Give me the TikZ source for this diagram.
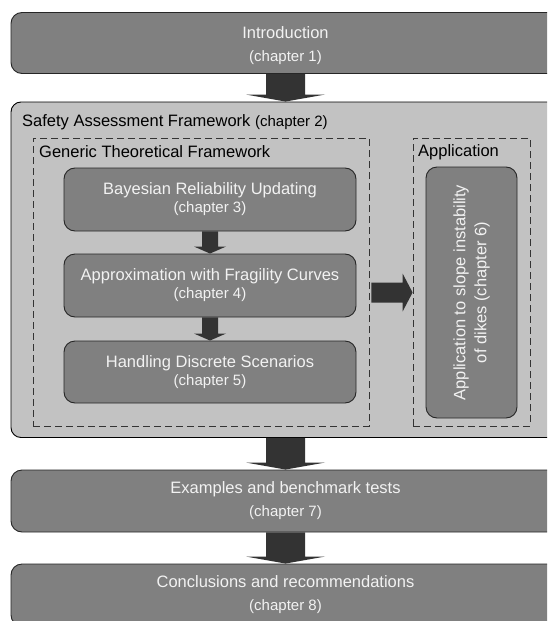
\documentclass[tikz,border=0pt]{standalone}
\usepackage{fontspec}
\setmainfont{Liberation Sans}
\usepackage{xcolor}
\usetikzlibrary{calc}

\definecolor{boxgray}{HTML}{808080}
\definecolor{framegray}{HTML}{C2C2C2}
\definecolor{arrowgray}{HTML}{333333}
\definecolor{textwhite}{HTML}{F2F2F2}

\newcommand{\chapnote}[1]{{\fontsize{15}{18}\selectfont(chapter #1)}}
\newcommand{\blockdown}[5]{%
	\fill [arrowgray] ($(#1)+(-#3,0)$) -- ($(#2)+(-#3,#5)$) -- ($(#2)+(-#4,#5)$) -- (#2)
		-- ($(#2)+(#4,#5)$) -- ($(#2)+(#3,#5)$) -- ($(#1)+(#3,0)$) -- cycle;}
\newcommand{\blockright}[5]{%
	\fill [arrowgray] ($(#1)+(0,#3)$) -- ($(#2)+(-#5,#3)$) -- ($(#2)+(-#5,#4)$) -- (#2)
		-- ($(#2)+(-#5,-#4)$) -- ($(#2)+(-#5,-#3)$) -- ($(#1)+(0,-#3)$) -- cycle;}

\tikzset{
	chapterbox/.style = {draw = black!85, line width = 0.9pt, fill = boxgray, rounded corners = 11pt,
		text = textwhite, align = center, inner sep = 0pt,
		font = \fontsize{16.5}{18}\selectfont},
	groupbox/.style = {draw = black, line width = 0.9pt, fill = framegray, rounded corners = 10pt, inner sep = 0pt},
	dashedbox/.style = {draw = black!80, line width = 0.8pt, dash pattern = on 7pt off 4pt, inner sep = 0pt},
	boxtitle/.style = {anchor = west, inner sep = 0pt, text = black, font = \fontsize{16.5}{18}\selectfont},
}

\begin{document}
\begin{tikzpicture}[x = 1pt, y = 1pt]
					\def\W{547};
					\def\H{621};
					\useasboundingbox (0,0) rectangle (\W,-\H);
					\clip (0,0) rectangle (\W,-\H);

					% outer chapters
					\begin{scope}
						\node [chapterbox, minimum width = 549pt, minimum height = 61pt] (intro) at (285.5,-43)
							{\rule{0pt}{18pt}Introduction\\[5pt]\chapnote{1}};
						\node [groupbox, minimum width = 549pt, minimum height = 335.5pt] (safety) at (285.5,-269.75) {};
						\node [boxtitle] (safetytitle) at (22,-122)
							{Safety Assessment Framework \chapnote{2}};
						\node [chapterbox, minimum width = 549pt, minimum height = 62pt] (examples) at (285.5,-501)
							{Examples and benchmark tests\\[5pt]\chapnote{7}};
						\node [chapterbox, minimum width = 549pt, minimum height = 62pt] (concl) at (285.5,-595)
							{Conclusions and recommendations\\[5pt]\chapnote{8}};
					\end{scope}

					% frameworks
					\begin{scope}
						\node [dashedbox, minimum width = 336pt, minimum height = 288pt] (generic) at (201,-282) {};
						\node [boxtitle] (generictitle) at (39,-152) {Generic Theoretical Framework};
						\node [dashedbox, minimum width = 117pt, minimum height = 288pt] (app) at (471.5,-282) {};
						\node [boxtitle] (apptitle) at (418,-152) {Application};
					\end{scope}

					\begin{scope}
						\node [chapterbox, minimum width = 292pt, minimum height = 63pt] (bayes) at (210,-199.5)
							{Bayesian Reliability Updating\\\chapnote{3}};
						\node [chapterbox, minimum width = 292pt, minimum height = 63pt] (approx) at (210,-285.5)
							{Approximation with Fragility Curves\\\chapnote{4}};
						\node [chapterbox, minimum width = 292pt, minimum height = 62pt] (handling) at (210,-372)
							{Handling Discrete Scenarios\\\chapnote{5}};
						\node [chapterbox, rotate = 90, minimum width = 251pt, minimum height = 91pt] (appbox) at (471.5,-292.5)
							{Application to slope instability\\[3pt]of dikes (chapter 6)};
					\end{scope}

					% arrows
					\begin{scope}
						\blockdown{intro.south}{safety.north}{19.5}{39.5}{7}
						\blockdown{safety.south}{examples.north}{19.5}{39.5}{7}
						\blockdown{examples.south}{concl.north}{19.5}{39.5}{7}
						\blockdown{bayes.south}{approx.north}{8}{16}{7}
						\blockdown{approx.south}{handling.north}{8}{16}{7}
						\coordinate (arrstart) at ($(generic.east |- appbox.center)+(2,0)$);
						\coordinate (arrend) at (app.west |- appbox.center);
						\blockright{arrstart}{arrend}{10}{19}{10}
					\end{scope}
				\end{tikzpicture}
\end{document}
